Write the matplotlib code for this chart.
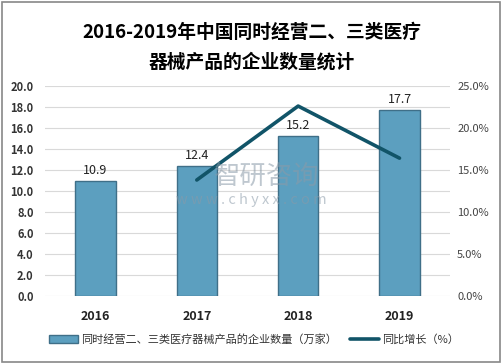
import matplotlib.pyplot as plt
from matplotlib.patches import Rectangle

plt.rcParams['font.family'] = ['Noto Sans CJK SC', 'DejaVu Sans']

years = ['2016', '2017', '2018', '2019']
companies = [10.9, 12.4, 15.2, 17.7]
growth = [None, 13.8, 22.6, 16.4]

bar_label = '同时经营二、三类医疗器械产品的企业数量（万家）'
line_label = '同比增长（%）'
title_lines = ['2016-2019年中国同时经营二、三类医疗', '器械产品的企业数量统计']


def main():
    fig = plt.figure(figsize=(5.03, 3.64), dpi=100)
    ax = fig.add_axes([0.089, 0.187, 0.806, 0.577])
    ax2 = ax.twinx()

    x = list(range(len(years)))
    bars = ax.bar(x, companies, width=0.4, color='#5c9fbf', edgecolor='#3f6f88',
                  linewidth=1.0, zorder=2, label=bar_label)
    for xi, v in zip(x, companies):
        ax.text(xi, v + 0.4, f'{v:.1f}', ha='center', va='bottom', fontsize=9,
                color='#222222', zorder=5)

    gx = [xi for xi, g in zip(x, growth) if g is not None]
    gy = [g for g in growth if g is not None]
    line, = ax2.plot(gx, gy, color='#115468', linewidth=2.6, zorder=4,
                     solid_capstyle='round', label=line_label)

    ax.set_xlim(-0.5, 3.5)
    ax.set_ylim(0, 20)
    ax.set_yticks([i * 2 for i in range(11)])
    ax.set_yticklabels([f'{i * 2:.1f}' for i in range(11)], fontsize=8,
                       fontweight='bold', color='#333333')
    ax2.set_ylim(0, 25)
    ax2.set_yticks([i * 5 for i in range(6)])
    ax2.set_yticklabels([f'{i * 5:.1f}%' for i in range(6)], fontsize=8,
                        color='#444444')
    ax.set_xticks(x)
    ax.set_xticklabels(years, fontsize=9, fontweight='bold', color='#222222')

    ax.grid(axis='y', color='#d9d9d9', linewidth=0.8, zorder=0)
    ax.set_axisbelow(True)
    for a in (ax, ax2):
        for s in a.spines.values():
            s.set_visible(False)
        a.tick_params(length=0)
    ax.tick_params(axis='x', pad=10)
    ax.tick_params(axis='y', pad=8)
    ax2.tick_params(axis='y', pad=5)
    ax2.set_zorder(ax.get_zorder() + 1)

    fig.text(0.5, 0.912, title_lines[0], ha='center', va='center', fontsize=13.5,
             fontweight='bold')
    fig.text(0.5, 0.83, title_lines[1], ha='center', va='center',
             fontsize=13.5, fontweight='bold')

    fig.legend(handles=[bars, line], labels=[bar_label, line_label],
               loc='center', bbox_to_anchor=(0.505, 0.068), ncol=2, frameon=False,
               fontsize=8, handlelength=2.6, handletextpad=0.3, columnspacing=1.2,
               labelcolor='#333333')

    # faint watermark, as in the source image
    fig.text(0.53, 0.515, '智研咨询', ha='center', va='center', fontsize=19,
             color='#8a9aa8', alpha=0.55, zorder=10)
    fig.text(0.5, 0.45, 'w w w . c h y x x . c o m', ha='center', va='center',
             fontsize=10.5, color='#8a9aa8', alpha=0.55, zorder=10)

    fig.patches.append(Rectangle((0.004, 0.005), 0.99, 0.99, transform=fig.transFigure,
                                 fill=False, edgecolor='#888888', linewidth=1.2))
    fig.savefig('out.png', dpi=100)


if __name__ == '__main__':
    main()
